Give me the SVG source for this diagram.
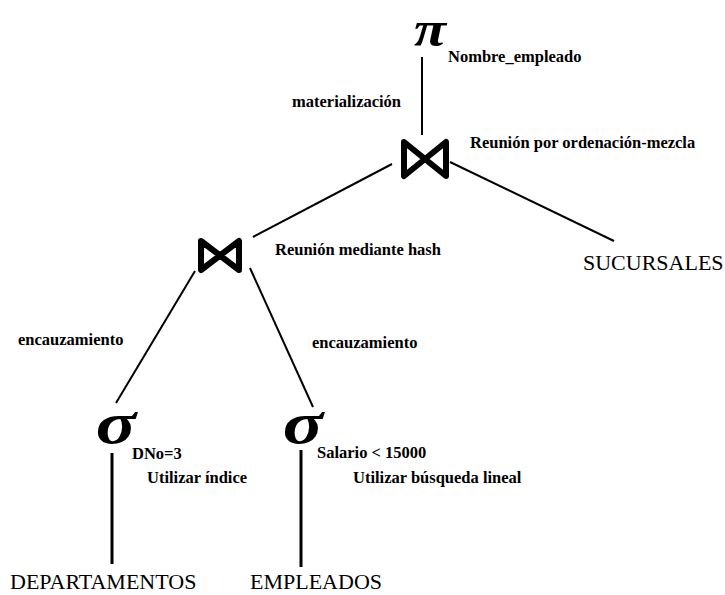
<svg xmlns="http://www.w3.org/2000/svg" width="725" height="595" viewBox="0 0 725 595">
<style>
.lbl{font-family:"Liberation Serif","Times New Roman",serif;font-weight:bold;font-size:16.5px;fill:#000}
.tbl{font-family:"Liberation Serif","Times New Roman",serif;font-size:22px;fill:#000}
.sym{font-family:"Liberation Serif","Times New Roman",serif;font-weight:bold;font-style:italic;fill:#000;text-anchor:middle}
.bow{fill:none;stroke:#000;stroke-width:6;stroke-linejoin:round}
.edge{stroke:#000;stroke-width:2;fill:none}
.edge3{stroke:#000;stroke-width:3;fill:none}
</style>
<rect width="725" height="595" fill="#fff"/>
<g id="connectors">
<line class="edge" x1="422" y1="57" x2="422" y2="135"/>
<line class="edge" x1="392" y1="164" x2="253" y2="237"/>
<line class="edge" x1="450" y1="162" x2="614" y2="241"/>
<line class="edge" x1="195" y1="271" x2="116" y2="403"/>
<line class="edge" x1="250" y1="268" x2="313" y2="407"/>
<line class="edge3" x1="112" y1="453" x2="112" y2="564"/>
<line class="edge3" x1="301" y1="450" x2="301" y2="567"/>
<text class="lbl" x="292" y="107">materialización</text>
<text class="lbl" x="18" y="345">encauzamiento</text>
<text class="lbl" x="312" y="348">encauzamiento</text>
</g>
<g id="projection">
<text class="sym" transform="translate(430,46) scale(1.15,1)" x="0" y="0" font-size="51">π</text>
<text class="lbl" x="448" y="62">Nombre_empleado</text>
</g>
<g id="join-merge">
<polygon class="bow" points="404,142 425,159 446,142 446,176 425,159 404,176"/>
<text class="lbl" x="470" y="148">Reunión por ordenación-mezcla</text>
</g>
<g id="join-hash">
<polygon class="bow" points="201,241 220,255.5 239,241 239,270 220,255.5 201,270"/>
<text class="lbl" x="275" y="255">Reunión mediante hash</text>
</g>
<g id="select-dno">
<text class="sym" transform="translate(116,443) scale(1.25,1)" x="0" y="0" font-size="60">σ</text>
<text class="lbl" x="132" y="459">DNo=3</text>
<text class="lbl" x="147" y="483">Utilizar índice</text>
</g>
<g id="select-salario">
<text class="sym" transform="translate(303,443) scale(1.25,1)" x="0" y="0" font-size="60">σ</text>
<text class="lbl" x="317" y="458">Salario &lt; 15000</text>
<text class="lbl" x="353" y="483">Utilizar búsqueda lineal</text>
</g>
<g id="sucursales">
<text class="tbl" x="583" y="270">SUCURSALES</text>
</g>
<g id="departamentos">
<text class="tbl" x="10" y="589">DEPARTAMENTOS</text>
</g>
<g id="empleados">
<text class="tbl" x="250" y="589">EMPLEADOS</text>
</g>
</svg>
